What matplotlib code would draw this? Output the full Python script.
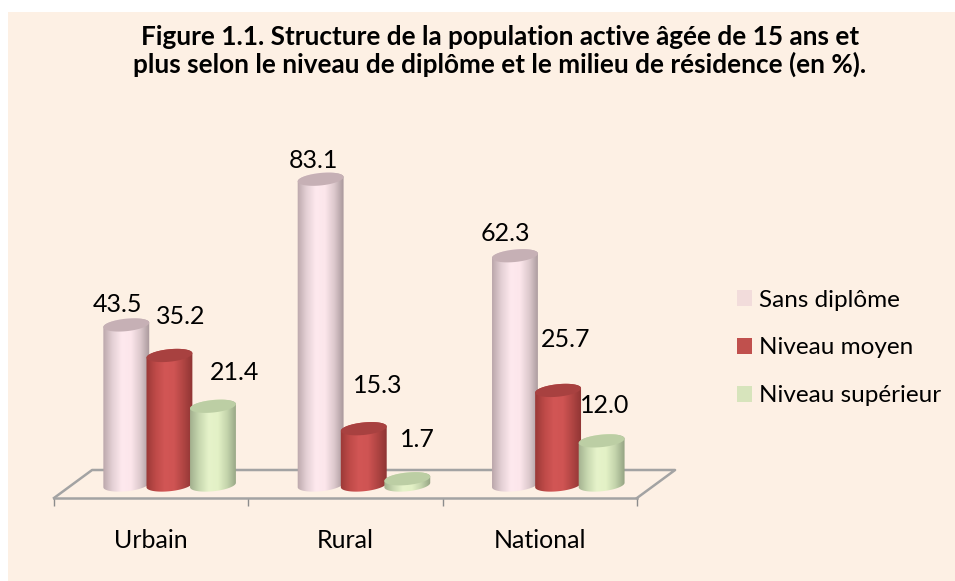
import numpy as np
import matplotlib
matplotlib.use('Agg')
import matplotlib.pyplot as plt
from matplotlib.colors import LinearSegmentedColormap
from matplotlib.patches import Patch, Polygon, Rectangle

categories = ['Urbain', 'Rural', 'National']
series_names = ['Sans diplôme', 'Niveau moyen', 'Niveau supérieur']
sans_diplome = [43.5, 83.1, 62.3]
niveau_moyen = [35.2, 15.3, 25.7]
niveau_superieur = [21.4, 1.7, 12.0]
value_labels = [['43.5', '83.1', '62.3'],
                ['35.2', '15.3', '25.7'],
                ['21.4', '1.7', '12.0']]
title = ('Figure 1.1. Structure de la population active âgée de 15 ans et\n'
         'plus selon le niveau de diplôme et le milieu de résidence (en %).')

W, H = 955, 581
BG = '#FDF0E4'
GREY = '#A3A3A3'
plt.rcParams['font.family'] = ['Lato', 'DejaVu Sans']

# (bord, ombre, clair, ombre, bord), dessus, légende
styles = [
    (['#BBA7AB', '#E4D0D5', '#FEE9EE', '#FCE6EB', '#DCC8CC', '#A8979A'], '#C6B0B5', '#F2DCDB'),
    (['#9A3836', '#BE4A48', '#D25655', '#CF5453', '#B04543', '#8E3433'], '#A84140', '#C0504D'),
    (['#A2B08E', '#C8D8B0', '#E6F3CA', '#E3F1C6', '#C3D3AB', '#94A382'], '#BCCEA4', '#D7E4BC'),
]
# décalages des étiquettes en pixels par rapport au sommet du cylindre
label_offsets = [[(-9, 20), (-7, 19), (-10, 22)],
                 [(11, 39), (14, 43), (8, 51)],
                 [(22, 34), (10, 39), (3, 35)]]
bar_shift = [-0.128, 0.094, 0.318]

fig = plt.figure(figsize=(W / 100, H / 100), dpi=100, facecolor='white')
fig.add_artist(Rectangle((8 / W, 0), 1 - 8 / W, 1 - 12 / H, transform=fig.transFigure,
                         facecolor=BG, edgecolor='none', zorder=-1))

ax = fig.add_axes([54 / W, (H - 498) / H, 583 / W, 368 / H])
ax.patch.set_alpha(0)
xlim = (-0.5, 2.5)
ylim = (-3.53, 96.47)


def ellipse_points(x, y, t):
    # ellipse légèrement inclinée vers la droite
    rx, ry, tilt = 0.118, 1.7, 0.6
    return x + rx * np.cos(t), y + ry * np.sin(t) + tilt * np.cos(t)


def draw_cylinder(x, value, stops, top_color, zorder):
    xb, yb = ellipse_points(x, 0, np.linspace(np.pi, 2 * np.pi, 40))
    xt, yt = ellipse_points(x, value, np.linspace(0, np.pi, 40))
    outline = Polygon(np.column_stack([np.r_[xb, xt], np.r_[yb, yt]]),
                      transform=ax.transData, facecolor='none', edgecolor='none')
    ax.add_patch(outline)
    cmap = LinearSegmentedColormap.from_list('cyl', stops)
    im = ax.imshow(np.linspace(0, 1, 128)[None, :], cmap=cmap, aspect='auto',
                   extent=(x - 0.12, x + 0.12, -3, value + 3), zorder=zorder)
    im.set_clip_path(outline)
    xe, ye = ellipse_points(x, value, np.linspace(0, 2 * np.pi, 80))
    ax.fill(xe, ye, color=top_color, lw=0, zorder=zorder + 0.1, clip_on=False)


# plancher 3D
ax.plot([-0.5, -0.304, 2.696, 2.5], [-3.53, 4.08, 4.08, -3.53], color=GREY, lw=1.8,
        clip_on=False, zorder=1)

all_values = [sans_diplome, niveau_moyen, niveau_superieur]
for s, values in enumerate(all_values):
    stops, top_color, _ = styles[s]
    for c, v in enumerate(values):
        x = c + bar_shift[s]
        draw_cylinder(x, v, stops, top_color, 2 + s + c * 3)
        ax.annotate(value_labels[s][c], xy=(x, v), xytext=label_offsets[s][c],
                    textcoords='offset pixels', ha='center', va='center',
                    fontsize=18, color='black', zorder=20, annotation_clip=False)

ax.set_xlim(xlim)
ax.set_ylim(ylim)
ax.set_yticks([])
for side in ['top', 'left', 'right']:
    ax.spines[side].set_visible(False)
ax.spines['bottom'].set_color(GREY)
ax.spines['bottom'].set_linewidth(1.8)
ax.set_xticks(range(len(categories)))
ax.set_xticklabels(categories, fontsize=18)
ax.tick_params(axis='x', which='major', length=0, pad=22)
ax.set_xticks([-0.5, 0.5, 1.5, 2.5], minor=True)
ax.tick_params(axis='x', which='minor', length=6, width=1, color='#8C8C8C')

fig.text(500 / W, 1 - 51 / H, title, ha='center', va='center', fontsize=18.8,
         fontweight='bold', linespacing=1.08)

handles = [Patch(facecolor=st[2], edgecolor='none', label=n) for st, n in zip(styles, series_names)]
fig.legend(handles=handles, loc='upper left', bbox_to_anchor=(727 / W, 1 - 280 / H),
           frameon=False, fontsize=17.5, handlelength=0.62, handleheight=0.62,
           handletextpad=0.3, labelspacing=1.1, borderaxespad=0, borderpad=0.4)

fig.savefig('out.png', dpi=100, facecolor='white')
